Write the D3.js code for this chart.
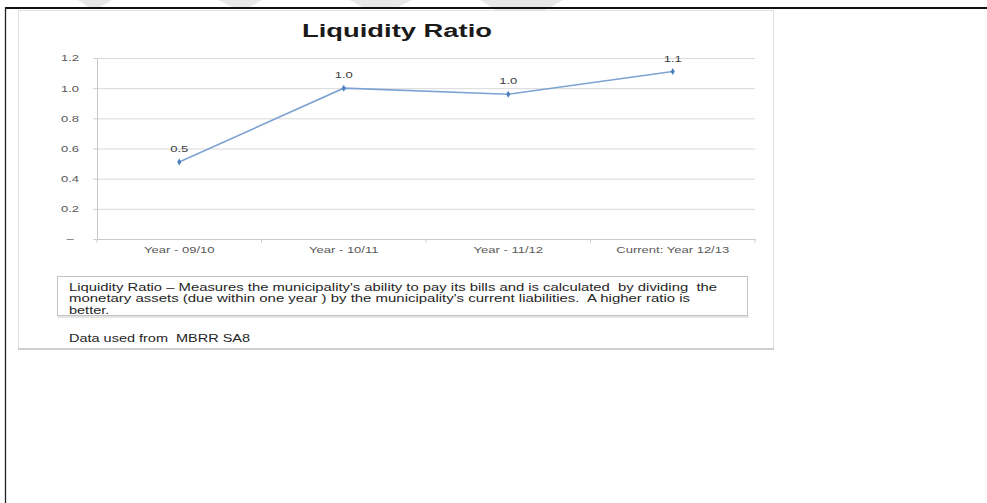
<!DOCTYPE html>
<html>
<head>
<meta charset="utf-8">
<script src="https://cdn.jsdelivr.net/npm/d3@7"></script>
<style>
  html, body { margin: 0; padding: 0; background: #ffffff; }
  svg { display: block; }
  text { font-family: "Liberation Sans", Arial, sans-serif; white-space: pre; }
</style>
</head>
<body>
<svg id="page" width="987" height="503"></svg>
<script>
// Liquidity ratio per financial year
const categories = ["Year - 09/10", "Year - 10/11", "Year - 11/12", "Current: Year 12/13"];
const ratioValues = [0.51, 1.0, 0.96, 1.11];
const yTicks = [0, 0.2, 0.4, 0.6, 0.8, 1.0, 1.2];
const titleText = "Liquidity Ratio";
const noteLines = [
  "Liquidity Ratio \u2013 Measures the municipality's ability to pay its bills and is calculated  by dividing  the",
  "monetary assets (due within one year ) by the municipality's current liabilities.  A higher ratio is",
  "better."
];
const sourceText = "Data used from  MBRR SA8";

const svg = d3.select("#page");
const SX = 1.45;            // the chart artwork is widened horizontally
const FONT_COLOR = "#595959";

// page frame
svg.append("g").attr("fill", "#e8e8e8")
  .selectAll("polygon")
  .data([
    [[78,0],[112,0],[100,7],[88,7]],
    [[218,0],[262,0],[250,7],[232,7]],
    [[350,0],[412,0],[398,7],[362,7]],
    [[480,0],[563,0],[540,13],[500,13]]
  ])
  .join("polygon")
  .attr("points", d => d.map(p => p.join(",")).join(" "));

svg.append("line").attr("x1", 5).attr("x2", 987).attr("y1", 8).attr("y2", 8)
  .attr("stroke", "#111").attr("stroke-width", 2);
svg.append("line").attr("x1", 5.5).attr("x2", 5.5).attr("y1", 7).attr("y2", 503)
  .attr("stroke", "#222").attr("stroke-width", 1.3);

// chart card
const card = svg.append("g");
card.append("rect").attr("x", 18.5).attr("y", 10.5).attr("width", 755).attr("height", 339)
  .attr("fill", "#ffffff").attr("stroke", "#e2e2e2");
card.append("line").attr("x1", 18).attr("x2", 774).attr("y1", 349).attr("y2", 349)
  .attr("stroke", "#cfcfcf").attr("stroke-width", 2);

// title
card.append("text")
  .attr("x", 397).attr("y", 37)
  .attr("text-anchor", "middle")
  .attr("font-size", 18).attr("font-weight", "bold").attr("fill", "#1a1a1a")
  .attr("textLength", 190).attr("lengthAdjust", "spacingAndGlyphs")
  .text(titleText);

// plot area
const plot = { left: 97, right: 755, top: 58, bottom: 239 };
const x = d3.scaleBand().domain(categories).range([plot.left, plot.right]).padding(0);
const y = d3.scaleLinear().domain([0, 1.2]).range([plot.bottom, plot.top]);

// horizontal gridlines
const grid = card.append("g").attr("transform", `translate(${plot.left},0)`)
  .call(d3.axisLeft(y).tickValues(yTicks.filter(d => d > 0))
    .tickSize(-(plot.right - plot.left)).tickFormat(""));
grid.select(".domain").remove();
grid.selectAll("line").attr("stroke", "#d9d9d9");

// value axis
const yAxis = card.append("g").attr("transform", `translate(${plot.left},0)`)
  .call(d3.axisLeft(y).tickValues(yTicks).tickSizeInner(4).tickSizeOuter(0)
    .tickFormat(d => d === 0 ? "\u2013" : d3.format(".1f")(d)));
yAxis.select(".domain").attr("stroke", "#c8c8c8");
yAxis.selectAll(".tick line").attr("stroke", "#d0d0d0");
yAxis.selectAll(".tick text")
  .attr("fill", FONT_COLOR).attr("font-size", 9)
  .attr("text-anchor", "middle")
  .attr("x", -27 / SX)
  .attr("transform", `scale(${SX},1)`);

// category axis
const xAxis = card.append("g").attr("transform", `translate(0,${plot.bottom})`)
  .call(d3.axisBottom(x).tickSize(0).tickPadding(8));
xAxis.select(".domain").attr("stroke", "#c8c8c8");
xAxis.selectAll(".tick text")
  .attr("fill", FONT_COLOR).attr("font-size", 9)
  .attr("transform", `scale(${SX},1)`);
card.append("g").selectAll("line")
  .data(d3.range(categories.length + 1))
  .join("line")
  .attr("x1", i => plot.left + i * x.step())
  .attr("x2", i => plot.left + i * x.step())
  .attr("y1", plot.bottom).attr("y2", plot.bottom + 4)
  .attr("stroke", "#d0d0d0");

// ratio line
const cx = d => x(d.cat) + x.bandwidth() / 2;
const pts = categories.map((c, i) => ({ cat: c, v: ratioValues[i] }));
card.append("path")
  .datum(pts)
  .attr("fill", "none")
  .attr("stroke", "#7ea3d3")
  .attr("stroke-width", 1.6)
  .attr("d", d3.line().x(cx).y(d => y(d.v)));

card.append("g").selectAll("path")
  .data(pts)
  .join("path")
  .attr("transform", d => `translate(${cx(d)},${y(d.v)})`)
  .attr("d", d3.symbol(d3.symbolDiamond, 14))
  .attr("fill", "#4a7ebb");

// value labels
card.append("g").selectAll("text")
  .data(pts)
  .join("text")
  .attr("transform", d => `translate(${cx(d)},${y(d.v) - 10}) scale(${SX},1)`)
  .attr("text-anchor", "middle")
  .attr("font-size", 9).attr("fill", "#404040")
  .text(d => d3.format(".1f")(d.v));

// explanatory note
card.append("rect").attr("x", 57.5).attr("y", 276.5).attr("width", 690).attr("height", 39)
  .attr("fill", "#ffffff").attr("stroke", "#c4c4c4");
card.append("line").attr("x1", 58).attr("x2", 749).attr("y1", 317).attr("y2", 317)
  .attr("stroke", "#e4e4e4").attr("stroke-width", 2);

const noteWidths = [648, 621];
card.append("g").selectAll("text")
  .data(noteLines.slice(0, 2))
  .join("text")
  .attr("x", 69).attr("y", (d, i) => 290.5 + i * 11.5)
  .attr("font-size", 10).attr("fill", "#262626")
  .attr("textLength", (d, i) => noteWidths[i])
  .attr("lengthAdjust", "spacingAndGlyphs")
  .text(d => d);
card.append("text")
  .attr("transform", `translate(69,313.5) scale(${SX},1)`)
  .attr("font-size", 10).attr("fill", "#262626")
  .text(noteLines[2]);

card.append("text")
  .attr("transform", `translate(69,341.5) scale(${SX},1)`)
  .attr("font-size", 10).attr("fill", "#262626")
  .text(sourceText);
</script>
</body>
</html>
